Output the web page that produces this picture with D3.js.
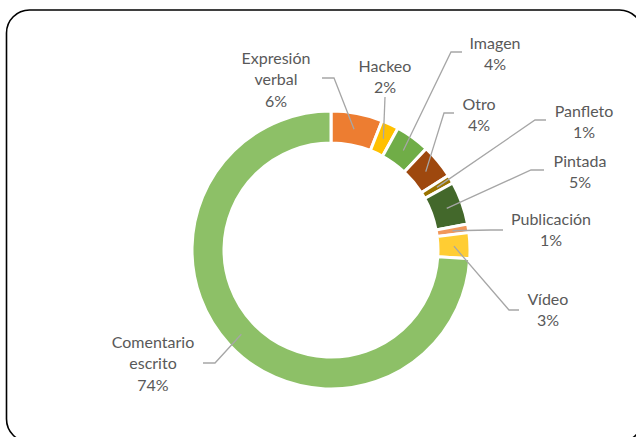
<!DOCTYPE html>
<html>
<head>
<meta charset="utf-8">
<script src="https://cdn.jsdelivr.net/npm/d3@7"></script>
<style>
  body { margin: 0; background: #fff; }
  text { font-family: Lato, "Open Sans", sans-serif; font-size: 16px; fill: #595959; }
</style>
</head>
<body>
<div id="chart-area"></div>
<script>
// datos del grafico (porcentajes por tipo)
const categorias = ["Expresión verbal", "Hackeo", "Imagen", "Otro", "Panfleto", "Pintada", "Publicación", "Vídeo", "Comentario escrito"];
const valores = [6, 2, 4, 4, 1, 5, 1, 3, 74];
const colores = ["#ed7d31", "#ffc000", "#70ad47", "#9e480e", "#997300", "#43682b", "#f1975a", "#ffcd33", "#8dc067"];
// lineas de la etiqueta (la ultima es el porcentaje)
const lineasEtiqueta = [["Expresión", "verbal"], ["Hackeo"], ["Imagen"], ["Otro"], ["Panfleto"], ["Pintada"], ["Publicación"], ["Vídeo"], ["Comentario", "escrito"]];

// posicion de cada etiqueta (centro de la primera linea) y codo de la linea guia
const posEtiqueta = [[276, 58], [385, 66], [495, 43], [479, 104], [584, 111], [580, 161], [551, 219], [548, 299], [153, 342]];
const codo = [[[322, 78], [334, 78]], [[385, 97], [385, 97]], [[462, 52], [451, 52]], [[454, 113], [444, 113]],
              [[546, 120], [535, 120]], [[544, 170], [531, 170]], [[503, 230], [491, 230]], [[519, 310], [509, 310]],
              [[203, 363], [215, 363]]];

const width = 636, height = 437;
const cx = 331, cy = 250, rOut = 139, rIn = 107;

let svg = d3.select("#chart-area").append("svg")
    .attr("width", width)
    .attr("height", height);

// marco redondeado
svg.append("rect")
    .attr("x", 6.5).attr("y", 10)
    .attr("width", 636).attr("height", 432)
    .attr("rx", 23)
    .attr("fill", "none")
    .attr("stroke", "#000")
    .attr("stroke-width", 1.6);

let pie = d3.pie().sort(null).value(d => d);
let arc = d3.arc().innerRadius(rIn).outerRadius(rOut);
let arcs = pie(valores);

let g = svg.append("g").attr("transform", `translate(${cx},${cy})`);

g.selectAll("path")
    .data(arcs)
    .enter()
    .append("path")
    .attr("d", arc)
    .attr("fill", (d, i) => colores[i])
    .attr("stroke", "#fff")
    .attr("stroke-width", 3);

// lineas guia desde el centroide
svg.selectAll("polyline.guia")
    .data(arcs)
    .enter()
    .append("polyline")
    .attr("class", "guia")
    .attr("points", (d, i) => {
        let c = arc.centroid(d);
        let pts = [codo[i][0], codo[i][1], [c[0] + cx, c[1] + cy]];
        return pts.map(p => p.join(",")).join(" ");
    })
    .attr("fill", "none")
    .attr("stroke", "#a6a6a6")
    .attr("stroke-width", 1.3);

// etiquetas
let etiquetas = svg.selectAll("text.etq")
    .data(arcs)
    .enter()
    .append("text")
    .attr("class", "etq")
    .attr("text-anchor", "middle")
    .attr("x", (d, i) => posEtiqueta[i][0])
    .attr("y", (d, i) => posEtiqueta[i][1]);

etiquetas.each(function (d, i) {
    let t = d3.select(this);
    let lineas = lineasEtiqueta[i].concat([d.data + "%"]);
    lineas.forEach((l, k) => {
        t.append("tspan")
            .attr("x", posEtiqueta[i][0])
            .attr("dy", k === 0 ? "0.35em" : 21.5)
            .text(l);
    });
});
</script>
</body>
</html>
